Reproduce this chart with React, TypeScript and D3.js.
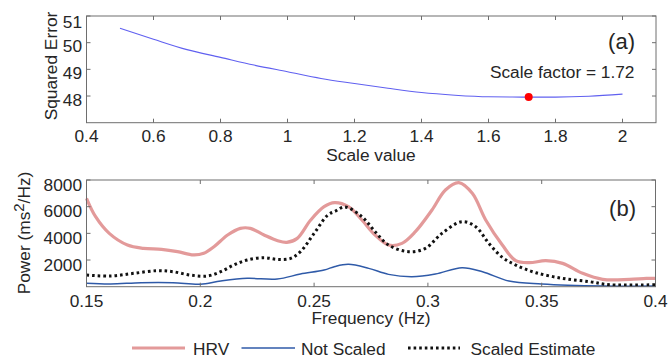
import React from "react";
import * as d3 from "d3";

// ---------- Panel (a) data ----------
const errScale = [0.5, 0.6, 0.7, 0.8, 0.9, 1.0, 1.1, 1.2, 1.3, 1.4, 1.5, 1.6, 1.7, 1.8, 1.9, 2.0];
const errValues = [50.54, 50.13, 49.74, 49.45, 49.16, 48.91, 48.66, 48.47, 48.29, 48.13, 48.03, 47.97, 47.96, 47.96, 47.99, 48.07];
const bestScale = 1.72;
const bestErr = 47.96;
const xTicksA = [0.4, 0.6, 0.8, 1.0, 1.2, 1.4, 1.6, 1.8, 2.0];
const yTicksA = [48, 49, 50, 51];

// ---------- Panel (b) data ----------
const hrvFreq = [0.15, 0.154, 0.16, 0.168, 0.175, 0.183, 0.19, 0.197, 0.2015, 0.206, 0.212, 0.2176, 0.222, 0.228, 0.234, 0.238, 0.2426, 0.2485, 0.2544, 0.259, 0.2651, 0.271, 0.2768, 0.2827, 0.2886, 0.2945, 0.3018, 0.3077, 0.3136, 0.3195, 0.3254, 0.3327, 0.3386, 0.3445, 0.3518, 0.3592, 0.368, 0.3768, 0.3886, 0.396, 0.4];
const hrvPower = [6630, 5250, 4000, 3125, 2875, 2800, 2630, 2380, 2500, 3000, 3875, 4375, 4375, 3875, 3450, 3330, 3625, 5000, 6000, 6300, 6000, 5000, 3875, 3125, 3250, 4125, 5750, 7250, 7800, 7000, 5000, 3125, 1950, 1800, 1950, 1750, 1000, 550, 550, 625, 625];

const notFreq = [0.15, 0.1606, 0.174, 0.188, 0.2, 0.209, 0.2206, 0.2338, 0.244, 0.2544, 0.2592, 0.2651, 0.274, 0.2827, 0.293, 0.3033, 0.315, 0.324, 0.3356, 0.35, 0.3768, 0.4];
const notPower = [250, 200, 300, 300, 180, 425, 625, 575, 950, 1250, 1520, 1675, 1375, 925, 750, 950, 1425, 1125, 425, 200, 50, 50];

const estFreq = [0.15, 0.1606, 0.1706, 0.181, 0.188, 0.1955, 0.203, 0.209, 0.2147, 0.2206, 0.228, 0.2338, 0.2397, 0.244, 0.25, 0.256, 0.2592, 0.2635, 0.271, 0.2768, 0.2827, 0.2915, 0.2989, 0.3062, 0.315, 0.321, 0.3268, 0.3327, 0.3386, 0.3474, 0.3592, 0.371, 0.3798, 0.4];
const estPower = [875, 800, 1000, 1200, 1125, 875, 800, 1125, 1625, 2000, 2175, 2050, 2125, 2625, 4000, 5375, 5650, 5980, 5250, 4125, 3125, 2625, 2875, 4000, 4875, 4500, 3250, 2200, 1625, 1050, 625, 375, 150, 150];

const xTicksB = [0.15, 0.2, 0.25, 0.3, 0.35, 0.4];
const yTicksB = [2000, 4000, 6000, 8000];

const legendLabels = ["HRV", "Not Scaled", "Scaled Estimate"];

const FONT = "Arial, 'Liberation Sans', sans-serif";
const AXIS = "#6e6e6e";
const TEXT = "#262626";
const HRV_COLOR = "#e39a9a";
const NOT_COLOR = "#2f5aa8";
const ERR_COLOR = "#6060f0";

const fmt = (v: number) => String(+v.toFixed(2));

function Frame({ x, y, xTicks, yTicks, tl }: any) {
  const [x0, x1] = x.range();
  const [y0, y1] = y.range(); // y0 bottom, y1 top
  return (
    <g>
      <rect x={x0} y={y1} width={x1 - x0} height={y0 - y1} fill="none" stroke={AXIS} strokeWidth={1} />
      {xTicks.map((t: number) => (
        <g key={"x" + t}>
          <line x1={x(t)} x2={x(t)} y1={y0} y2={y0 - tl} stroke={AXIS} />
          <line x1={x(t)} x2={x(t)} y1={y1} y2={y1 + tl} stroke={AXIS} />
        </g>
      ))}
      {yTicks.map((t: number) => (
        <g key={"y" + t}>
          <line x1={x0} x2={x0 + tl} y1={y(t)} y2={y(t)} stroke={AXIS} />
          <line x1={x1} x2={x1 - tl} y1={y(t)} y2={y(t)} stroke={AXIS} />
        </g>
      ))}
    </g>
  );
}

export default function App() {
  const W = 668, H = 362;
  // panel a
  const xa = d3.scaleLinear().domain([0.4, 2.1]).range([86.5, 656]);
  const ya = d3.scaleLinear().domain([47, 51]).range([122.7, 16]);
  // panel b
  const xb = d3.scaleLinear().domain([0.15, 0.4]).range([86.5, 655.5]);
  const yb = d3.scaleLinear().domain([0, 8000]).range([286.7, 180]);

  const lineA = d3.line<number>().x((d, i) => xa(errScale[i])).y((d) => ya(d)).curve(d3.curveMonotoneX);
  const mk = (fr: number[]) =>
    d3.line<number>().x((d, i) => xb(fr[i])).y((d) => yb(d)).curve(d3.curveCatmullRom.alpha(0.5));

  const fs = 17.3;
  return (
    <svg width={W} height={H} style={{ position: "absolute", left: 0, top: 0, background: "#fff" }} fontFamily={FONT}>
      <rect width={W} height={H} fill="#fff" />
      {/* Panel (a) */}
      <Frame x={xa} y={ya} xTicks={xTicksA} yTicks={yTicksA} tl={4} />
      <path d={lineA(errValues) || ""} fill="none" stroke={ERR_COLOR} strokeWidth={1.1} />
      <circle cx={xa(bestScale)} cy={ya(bestErr)} r={4} fill="#ff0000" />
      {xTicksA.map((t) => (
        <text key={t} x={xa(t)} y={142} textAnchor="middle" fontSize={fs} fill={TEXT}>{fmt(t)}</text>
      ))}
      {yTicksA.map((t) => (
        <text key={t} x={82} y={ya(t) + (t === 51 ? 11.5 : 9.5)} textAnchor="end" fontSize={fs} fill={TEXT}>{fmt(t)}</text>
      ))}
      <text x={371} y={161} textAnchor="middle" fontSize={fs} fill={TEXT}>Scale value</text>
      <text transform="translate(57,66) rotate(-90)" textAnchor="middle" fontSize={fs} fill={TEXT}>Squared Error</text>
      <text x={635} y={49} textAnchor="end" fontSize={22} fill={TEXT}>(a)</text>
      <text x={634.5} y={78} textAnchor="end" fontSize={fs} fill={TEXT}>{`Scale factor = ${bestScale}`}</text>

      {/* Panel (b) */}
      <g>
        <path d={mk(hrvFreq)(hrvPower) || ""} fill="none" stroke={HRV_COLOR} strokeWidth={3.2} />
        <path d={mk(notFreq)(notPower) || ""} fill="none" stroke={NOT_COLOR} strokeWidth={1.5} />
        <path d={mk(estFreq)(estPower) || ""} fill="none" stroke="#111" strokeWidth={3} strokeDasharray="2.6,3" />
      </g>
      <Frame x={xb} y={yb} xTicks={xTicksB} yTicks={yTicksB} tl={4} />
      {xTicksB.map((t) => (
        <text key={t} x={xb(t)} y={306.7} textAnchor="middle" fontSize={fs} fill={TEXT}>{fmt(t)}</text>
      ))}
      {yTicksB.map((t) => (
        <text key={t} x={82} y={yb(t) + 10.5} textAnchor="end" fontSize={fs} fill={TEXT}>{t}</text>
      ))}
      <text x={371} y={324} textAnchor="middle" fontSize={fs} fill={TEXT}>Frequency (Hz)</text>
      <text transform="translate(29.5,233) rotate(-90)" textAnchor="middle" fontSize={fs} fill={TEXT}>
        <tspan>Power (ms</tspan>
        <tspan dy={-6} fontSize={15}>2</tspan>
        <tspan dy={6}>/Hz)</tspan>
      </text>
      <text x={636} y={216} textAnchor="end" fontSize={22} fill={TEXT}>(b)</text>

      {/* Legend */}
      <g fontSize={fs} fill={TEXT}>
        <line x1={132} x2={185} y1={348} y2={348} stroke={HRV_COLOR} strokeWidth={3.2} />
        <text x={193} y={354.5}>{legendLabels[0]}</text>
        <line x1={241.5} x2={295} y1={348} y2={348} stroke={NOT_COLOR} strokeWidth={1.5} />
        <text x={301} y={354.5}>{legendLabels[1]}</text>
        <line x1={408} x2={460} y1={348} y2={348} stroke="#111" strokeWidth={3} strokeDasharray="2.6,3" />
        <text x={470.5} y={354.5}>{legendLabels[2]}</text>
      </g>
    </svg>
  );
}
